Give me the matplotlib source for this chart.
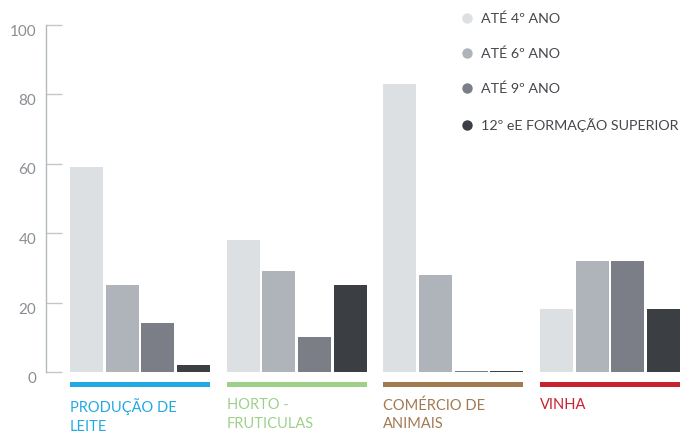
import matplotlib
matplotlib.use("Agg")
import matplotlib.pyplot as plt
from matplotlib.lines import Line2D
import numpy as np

plt.rcParams['font.family'] = ['Lato', 'DejaVu Sans']

categories = ["PRODUÇÃO DE\nLEITE", "HORTO -\nFRUTICULAS", "COMÉRCIO DE\nANIMAIS", "VINHA"]
series_names = ["ATÉ 4º ANO", "ATÉ 6º ANO", "ATÉ 9º ANO", "12º eE FORMAÇÃO SUPERIOR"]
values = {
    "ATÉ 4º ANO": [59, 38, 83, 18],
    "ATÉ 6º ANO": [25, 29, 28, 32],
    "ATÉ 9º ANO": [14, 10, 0.3, 32],
    "12º eE FORMAÇÃO SUPERIOR": [2, 25, 0.3, 18],
}
yticks = [0, 20, 40, 60, 80, 100]

series_colors = ["#dce0e3", "#afb3ba", "#7b7e86", "#3b3e42"]
cat_colors = ["#22a9e1", "#9fd08a", "#a27a52", "#c8222f"]

W, H = 682, 432
fig = plt.figure(figsize=(W / 100, H / 100), dpi=100)
ax = fig.add_axes([46 / W, (H - 372) / H, 636 / W, (372 - 24.5) / H])

bar_w = 0.2106
bar_pitch = 0.2278
group_w = 3 * bar_pitch + bar_w

for j, name in enumerate(series_names):
    xs = np.arange(len(categories)) + j * bar_pitch + bar_w / 2
    ax.bar(xs, values[name], width=bar_w, color=series_colors[j], linewidth=0)

# category underline bars and labels
for i, (cat, c) in enumerate(zip(categories, cat_colors)):
    ax.bar(i + group_w / 2, -1.45, bottom=-2.9, width=group_w, color=c,
           linewidth=0, clip_on=False)
    ax.text(i, -7.6, cat, color=c, fontsize=10.5, ha="left", va="top",
            linespacing=1.38, clip_on=False)

ax.set_xlim(-0.153, 3.906)
ax.set_ylim(0, 100)
ax.set_xticks([])
ax.set_yticks(yticks)
ax.tick_params(axis="y", direction="in", length=11.5, width=1.0,
               color="#c3c7cb", labelcolor="#8a8d92", labelsize=11, pad=7)
for lbl in ax.get_yticklabels():
    lbl.set_verticalalignment("top")

for s in ["top", "right", "bottom"]:
    ax.spines[s].set_visible(False)
ax.spines["left"].set_color("#b3b8bd")
ax.spines["left"].set_linewidth(1.0)

handles = [Line2D([], [], marker="o", linestyle="none", markersize=7.5,
                  markerfacecolor=c, markeredgecolor="none") for c in series_colors]
leg = fig.legend(handles, series_names, loc="upper left",
                 bbox_to_anchor=(460 / W, 1 - 12.5 / H), frameon=False,
                 fontsize=10.3, labelspacing=1.58, handletextpad=0.5,
                 handlelength=1.0, borderpad=0, borderaxespad=0)
for t in leg.get_texts():
    t.set_color("#45484c")

fig.savefig("out.png", dpi=100)
